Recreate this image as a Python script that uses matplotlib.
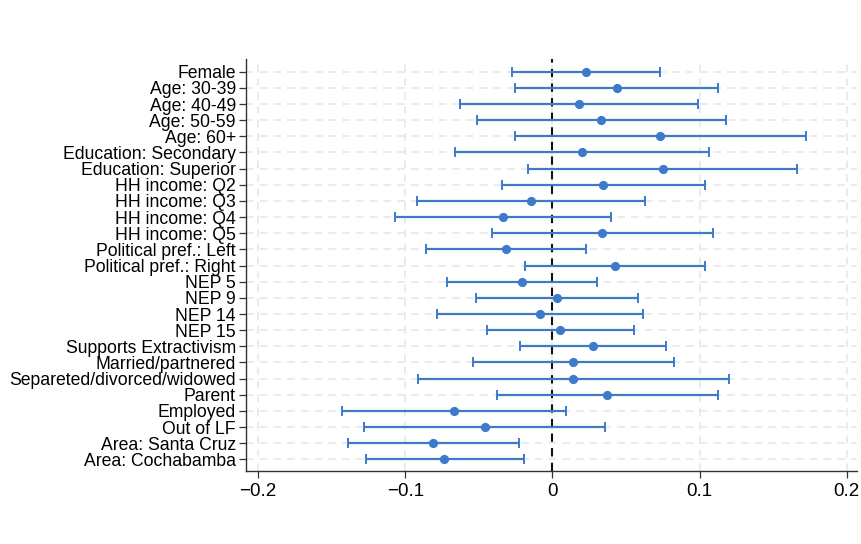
import numpy as np
import matplotlib
matplotlib.use('Agg')
import matplotlib.pyplot as plt

plt.rcParams['font.family'] = ['Liberation Sans', 'DejaVu Sans']

labels = ['Female', 'Age: 30-39', 'Age: 40-49', 'Age: 50-59', 'Age: 60+',
          'Education: Secondary', 'Education: Superior',
          'HH income: Q2', 'HH income: Q3', 'HH income: Q4', 'HH income: Q5',
          'Political pref.: Left', 'Political pref.: Right',
          'NEP 5', 'NEP 9', 'NEP 14', 'NEP 15', 'Supports Extractivism',
          'Married/partnered', 'Separeted/divorced/widowed', 'Parent',
          'Employed', 'Out of LF', 'Area: Santa Cruz', 'Area: Cochabamba']

coef = [0.0228, 0.0438, 0.0182, 0.0330, 0.0730, 0.0203, 0.0748,
        0.0345, -0.0148, -0.0336, 0.0338, -0.0316, 0.0423,
        -0.0207, 0.0031, -0.0087, 0.0053, 0.0275,
        0.0139, 0.0137, 0.0372, -0.0671, -0.0461, -0.0810, -0.0735]
ci_lo = [-0.0275, -0.0253, -0.0626, -0.0515, -0.0257, -0.0662, -0.0164,
         -0.0343, -0.0923, -0.1070, -0.0411, -0.0861, -0.0189,
         -0.0719, -0.0518, -0.0787, -0.0445, -0.0221,
         -0.0540, -0.0916, -0.0377, -0.1432, -0.1280, -0.1389, -0.1269]
ci_hi = [0.0730, 0.1127, 0.0988, 0.1177, 0.1720, 0.1065, 0.1659,
         0.1036, 0.0626, 0.0395, 0.1090, 0.0228, 0.1036,
         0.0304, 0.0581, 0.0615, 0.0554, 0.0773,
         0.0823, 0.1199, 0.1122, 0.0092, 0.0357, -0.0228, -0.0192]

xticks = [-0.2, -0.1, 0, 0.1, 0.2]
xticklabels = ['\u22120.2', '\u22120.1', '0', '0.1', '0.2']

coef = np.array(coef)
lo = np.array(ci_lo)
hi = np.array(ci_hi)
y = np.arange(1, len(labels) + 1)

fig = plt.figure(figsize=(8.61, 5.44), dpi=100)
ax = fig.add_axes([245.7 / 861, 1 - 471 / 544, (857 - 245.7) / 861, (471 - 59.3) / 544])

blue = '#3d7bc8'
ax.errorbar(coef, y, xerr=[coef - lo, hi - coef], fmt='o', color=blue,
            ecolor=blue, elinewidth=1.6, capsize=3.5, capthick=1.4,
            markersize=5.6, zorder=3)
ax.axvline(0, color='#111111', linestyle=(0, (4, 3)), linewidth=1.5, zorder=2)

ax.set_xlim(-0.2084, 0.2069)
ax.set_ylim(25.72, 0.23)
ax.set_yticks(y)
ax.set_yticklabels(labels, fontsize=12.7)
ax.set_xticks(xticks)
ax.set_xticklabels(xticklabels, fontsize=13.5)

ax.grid(True, color='#e6e6e6', linestyle=(0, (5, 4)), linewidth=1.1, zorder=0)
ax.set_axisbelow(True)
for s in ['top', 'right']:
    ax.spines[s].set_visible(False)
for s in ['left', 'bottom']:
    ax.spines[s].set_color('#333333')
    ax.spines[s].set_linewidth(1.0)
ax.tick_params(axis='both', length=5, width=0.9, color='#333333', pad=2)
ax.tick_params(axis='x', pad=4)

fig.savefig('out.png', dpi=100)
